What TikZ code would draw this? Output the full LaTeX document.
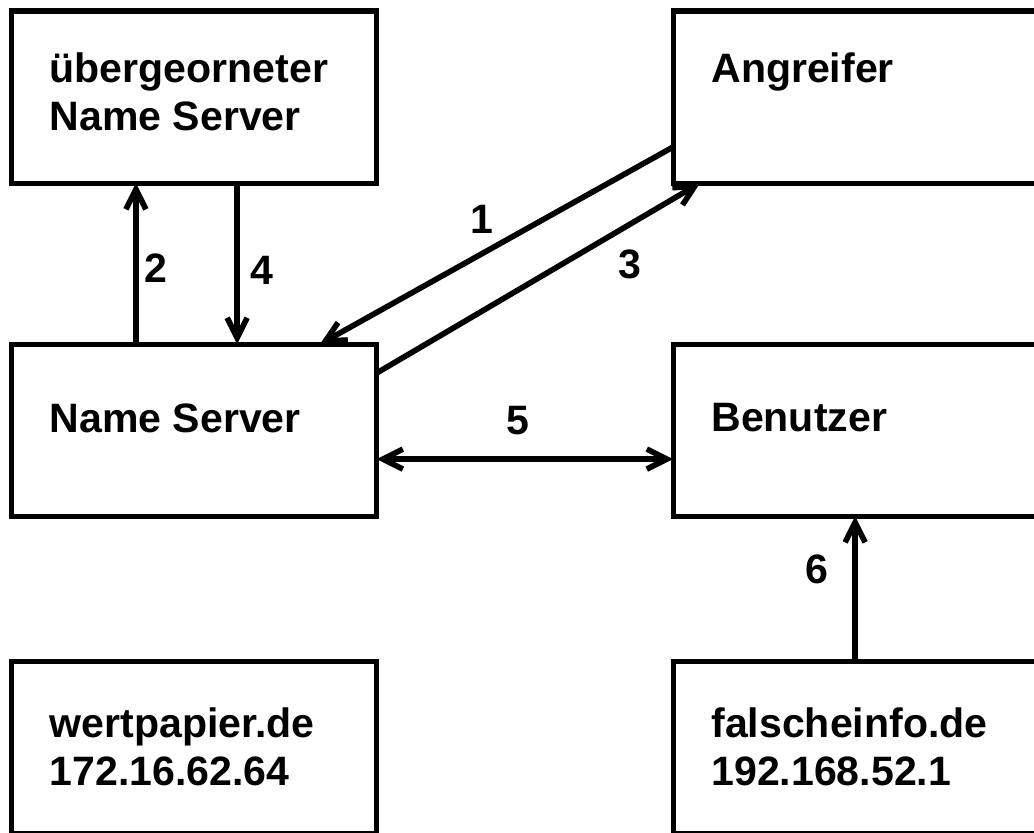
\documentclass[tikz,border=0pt]{standalone}
\usepackage{fontspec}
\setmainfont{Liberation Sans}
\usetikzlibrary{positioning,arrows.meta}

\tikzset{
  box/.style={draw=black,line width=3.6pt,rectangle,minimum width=9.125cm,minimum height=4.3cm,outer sep=0pt,inner sep=0pt},
  boxtext/.style={align=left,inner sep=0pt,font=\fontsize{29.2}{34}\selectfont\bfseries},
  num/.style={inner sep=0pt,font=\fontsize{29.2}{34}\selectfont\bfseries},
  arr/.style={line width=4pt,-{Straight Barb[length=0.5cm,width=0.5cm]}},
  arrs/.style={line width=4pt,{Straight Barb[length=0.5cm,width=0.5cm]}-{Straight Barb[length=0.5cm,width=0.5cm]}}
}

\begin{document}
\begin{tikzpicture}[x=0.025cm,y=-0.025cm]
  \useasboundingbox (0,0) rectangle (1034,833);
  \clip (0,0) rectangle (1034,833);

  % boxes
  \node[box,anchor=north west] (ueber) at (11.5,11) {};
  \node[box,right=7.41cm of ueber] (angr) {};
  \node[box,below=4.025cm of ueber] (ns) {};
  \node[box,right=7.41cm of ns] (benutzer) {};
  \node[box,below=3.625cm of ns] (wert) {};
  \node[box,right=7.41cm of wert] (falsch) {};

  % texts
  \node[boxtext,below right=1.03cm and 0.95cm of ueber.north west] (uebertxt) {übergeorneter\\Name Server};
  \node[boxtext,below right=1.03cm and 0.95cm of angr.north west] (angrtxt) {Angreifer};
  \node[boxtext,below right=1.48cm and 0.95cm of ns.north west] (nstxt) {Name Server};
  \node[boxtext,below right=1.48cm and 0.95cm of benutzer.north west] (benutzertxt) {Benutzer};
  \node[boxtext,below right=1.155cm and 0.95cm of wert.north west] (werttxt) {wertpapier.de\\172.16.62.64};
  \node[boxtext,below right=1.155cm and 0.95cm of falsch.north west] (falschtxt) {falscheinfo.de\\192.168.52.1};

  % arrows
  \draw[arr] ([yshift=-3.4cm]angr.north west) -- node[num,pos=0.5,xshift=-0.36cm,yshift=0.66cm] (l1) {1} ([xshift=7.71cm]ns.north west);
  \draw[arr] ([xshift=3.11cm]ns.north west) -- node[num,pos=0.47,xshift=0.5cm] (l2) {2} ([xshift=3.11cm]ueber.south west);
  \draw[arr] ([yshift=-0.725cm]ns.north east) -- node[num,pos=0.73,xshift=0.43cm,yshift=-0.75cm] (l3) {3} ([xshift=0.675cm]angr.south west);
  \draw[arr] ([xshift=5.64cm]ueber.south west) -- node[num,pos=0.54,xshift=0.625cm] (l4) {4} ([xshift=5.64cm]ns.north west);
  \draw[arrs] ([yshift=-2.875cm]ns.north east) -- node[num,pos=0.475,yshift=0.975cm] (l5) {5} ([yshift=-2.875cm]benutzer.north west);
  \draw[arr] ([xshift=4.55cm]falsch.north west) -- node[num,pos=0.63,xshift=-0.95cm] (l6) {6} ([xshift=4.55cm]benutzer.south west);
\end{tikzpicture}
\end{document}
